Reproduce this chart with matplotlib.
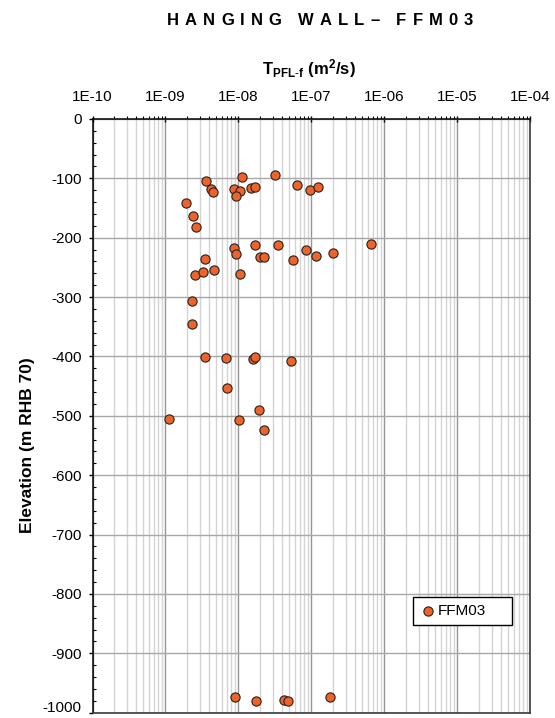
import matplotlib
matplotlib.use("Agg")
import matplotlib.pyplot as plt
from matplotlib.ticker import LogLocator, FixedLocator, NullFormatter, MultipleLocator, FuncFormatter
from matplotlib.font_manager import findfont, FontProperties
from matplotlib.ft2font import FT2Font
import numpy as np

plt.rcParams['font.family'] = ['Liberation Sans', 'DejaVu Sans']
plt.rcParams['axes.unicode_minus'] = False
plt.rcParams['mathtext.fontset'] = 'custom'
plt.rcParams['mathtext.rm'] = 'Liberation Sans'
plt.rcParams['mathtext.bf'] = 'Liberation Sans:bold'

# Transmissivity of PFL fractures (m2/s) and their elevations (m RHB 70)
transmissivity = [
    3.57e-9, 1.13e-8, 3.2e-8, 4.27e-9, 4.5e-9, 8.65e-9, 1.05e-8, 9.3e-9,
    1.48e-8, 1.68e-8, 6.44e-8, 9.6e-8, 1.25e-7, 1.92e-9, 2.39e-9, 2.63e-9,
    8.8e-9, 9.4e-9, 1.68e-8, 3.47e-8, 1.99e-8, 2.28e-8, 5.57e-8, 8.5e-8,
    1.16e-7, 1.99e-7, 6.6e-7, 3.46e-9, 2.52e-9, 3.31e-9, 4.69e-9, 1.04e-8,
    2.3e-9, 2.3e-9, 3.52e-9, 6.84e-9, 1.59e-8, 1.68e-8, 5.33e-8, 7.06e-9,
    1.94e-8, 1.11e-9, 1.03e-8, 2.27e-8,
    8.9e-9, 1.73e-8, 4.2e-8, 4.8e-8, 1.83e-7,
]
elevation = [
    -104, -98, -94, -118, -123, -118, -122, -129,
    -117, -114, -112, -120, -114, -141, -164, -182,
    -218, -228, -212, -212, -233, -233, -237, -220,
    -230, -225, -210, -235, -262, -258, -254, -261,
    -306, -345, -401, -403, -404, -401, -407, -453,
    -490, -505, -507, -524,
    -973, -981, -979, -981, -973,
]
series_name = "FFM03"
title = "HANGING WALL– FFM03"
x_tick_labels = ["1E-10", "1E-09", "1E-08", "1E-07", "1E-06", "1E-05", "1E-04"]
x_ticks = [1e-10, 1e-9, 1e-8, 1e-7, 1e-6, 1e-5, 1e-4]
y_min, y_max = -1000, 0

W, H = 555, 718
DPI = 100
fig = plt.figure(figsize=(W / DPI, H / DPI), dpi=DPI)
ax = fig.add_axes([92.5 / W, 1 - 712.7 / H, (530 - 92.5) / W, (712.7 - 119) / H])

ax.set_xscale('log')
ax.set_xlim(x_ticks[0], x_ticks[-1])
ax.set_ylim(y_min, y_max)

# grid: decades darker, intermediate values light, horizontal every 100 m
ax.xaxis.set_major_locator(FixedLocator(x_ticks))
ax.xaxis.set_minor_locator(LogLocator(base=10, subs=np.arange(2, 10), numticks=20))
ax.xaxis.set_minor_formatter(NullFormatter())
ax.set_xticklabels(x_tick_labels)
ax.yaxis.set_major_locator(MultipleLocator(100))
ax.yaxis.set_minor_locator(MultipleLocator(20))
# the bottom value is written separately so it stays inside the figure
ax.yaxis.set_major_formatter(FuncFormatter(lambda v, p: '' if v <= y_min else f'{v:.0f}'))

ax.grid(which='major', axis='x', color='#959595', lw=1.0, zorder=0)
ax.grid(which='minor', axis='x', color='#d4d4d4', lw=1.0, zorder=0)
ax.grid(which='major', axis='y', color='#a8a8a8', lw=1.0, zorder=0)
ax.set_axisbelow(True)

ax.xaxis.tick_top()
ax.tick_params(axis='x', which='major', direction='inout', length=4.8, width=1,
               labelsize=11, pad=8.4, colors='black')
ax.tick_params(axis='x', which='minor', direction='out', length=2.2, width=0.8)
ax.tick_params(axis='y', which='major', direction='out', length=3, width=1,
               labelsize=11, pad=4.7)
ax.tick_params(axis='y', which='minor', direction='in', length=2, width=0.8)

ax.annotate(f'{y_min}', xy=(0, y_min), xycoords=('axes fraction', 'data'),
            xytext=(-7.8, 3.3), textcoords='offset points',
            ha='right', va='center', fontsize=11)

for side in ['left', 'top']:
    ax.spines[side].set_color('black')
    ax.spines[side].set_linewidth(1.1)
for side in ['right', 'bottom']:
    ax.spines[side].set_color('#333b40')
    ax.spines[side].set_linewidth(1.2)

ax.scatter(transmissivity, elevation, s=44, color='#ef6329', edgecolor='#222222',
           linewidth=0.8, zorder=3, label=series_name, clip_on=False)

fig.text(28 / W, 1 - 445 / H, 'Elevation (m RHB 70)', rotation=90,
         ha='center', va='center', fontsize=12.5, fontweight='bold')


def spaced_title(text, x_left, y_base, size, tracking):
    """Draw bold text letter by letter with extra spacing between letters."""
    font = FT2Font(findfont(FontProperties(family='Liberation Sans', weight='bold')))
    font.set_size(size, 72)
    x = x_left
    for ch in text:
        glyph = font.load_char(ord(ch))
        adv = glyph.linearHoriAdvance / 65536 * DPI / 72
        if ch != ' ':
            fig.text(x / W, 1 - y_base / H, ch, ha='left', va='baseline',
                     fontsize=size, fontweight='bold')
        x += adv + tracking


spaced_title(title, 167, 25, 12, 6.0)

fig.text(309 / W, 1 - 74 / H, r'$\mathbf{T_{PFL\text{-}f}\ (m^{2}/s)}$',
         ha='center', va='baseline', fontsize=12)

leg = ax.legend(loc='upper left', bbox_to_anchor=(413 / W, 1 - 628 / H, 99 / W, 31 / H),
                bbox_transform=fig.transFigure, mode='expand', borderaxespad=0,
                fancybox=False, framealpha=1, edgecolor='black', fontsize=11,
                handletextpad=0.2, borderpad=0.45, handlelength=1.0, scatterpoints=1)
leg.get_frame().set_linewidth(1.0)

fig.savefig('out.png', dpi=DPI)
